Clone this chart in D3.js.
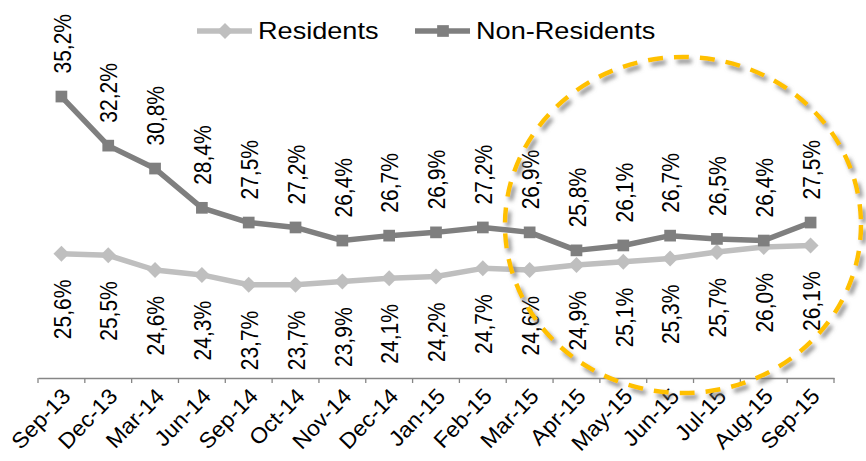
<!DOCTYPE html>
<html>
<head>
<meta charset="utf-8">
<script src="https://cdn.jsdelivr.net/npm/d3@7/dist/d3.min.js"></script>
<style>
  html, body { margin: 0; padding: 0; background: #fff; }
  svg { display: block; }
  text { font-family: "Liberation Sans", Arial, sans-serif; fill: #000; }
</style>
</head>
<body>
<svg id="chart" width="866" height="461"></svg>
<script>
// Quarterly / monthly periods on the category axis
const categories = ["Sep-13", "Dec-13", "Mar-14", "Jun-14", "Sep-14", "Oct-14", "Nov-14",
  "Dec-14", "Jan-15", "Feb-15", "Mar-15", "Apr-15", "May-15", "Jun-15", "Jul-15", "Aug-15", "Sep-15"];

// Shares in percent
const residents = [25.6, 25.5, 24.6, 24.3, 23.7, 23.7, 23.9, 24.1, 24.2, 24.7, 24.6, 24.9, 25.1, 25.3, 25.7, 26.0, 26.1];
const nonResidents = [35.2, 32.2, 30.8, 28.4, 27.5, 27.2, 26.4, 26.7, 26.9, 27.2, 26.9, 25.8, 26.1, 26.7, 26.5, 26.4, 27.5];

const seriesNames = ["Residents", "Non-Residents"];
const yDomain = [18, 40];

const COL_RES = "#bfbfbf";
const COL_NON = "#7f7f7f";
const SX = 1.12; // horizontal widening of the glyphs

const svg = d3.select("#chart");
svg.append("rect").attr("width", 866).attr("height", 461).attr("fill", "#fff");

const x = d3.scaleBand().domain(categories).range([38, 834]);
const y = d3.scaleLinear().domain(yDomain).range([378, 18]);
const cx = d => x(d) + x.bandwidth() / 2;

const fmt = v => d3.format(".1f")(v).replace(".", ",") + "%";

// Category axis: baseline, labels, and ticks between categories
const axisG = svg.append("g").attr("transform", "translate(0,378)")
  .call(d3.axisBottom(x).tickSize(0).tickSizeOuter(0).tickPadding(0));
axisG.select(".domain").attr("stroke", "#868686").attr("stroke-width", 1.3);
axisG.selectAll(".tick text")
  .attr("font-size", 22)
  .attr("font-family", "Liberation Sans, Arial, sans-serif")
  .attr("fill", "#000")
  .attr("text-anchor", "end")
  .attr("x", 0).attr("y", 0)
  .attr("transform", `translate(5,14) rotate(-46) scale(1.04,1)`)
  .attr("dy", "0.35em");
const boundaries = categories.map(d => x(d)).concat([x.range()[1]]);
axisG.selectAll("line.bound").data(boundaries).join("line")
  .attr("class", "bound")
  .attr("x1", d => d).attr("x2", d => d)
  .attr("y1", 0).attr("y2", 5)
  .attr("stroke", "#868686").attr("stroke-width", 1.3);

// Lines
const line = vals => d3.line().x((v, i) => cx(categories[i])).y(v => y(v))(vals);
svg.append("path").attr("d", line(residents)).attr("fill", "none")
  .attr("stroke", COL_RES).attr("stroke-width", 5.5).attr("stroke-linejoin", "round");
svg.append("path").attr("d", line(nonResidents)).attr("fill", "none")
  .attr("stroke", COL_NON).attr("stroke-width", 5.5).attr("stroke-linejoin", "round");

// Markers
const diamond = d3.symbol().type(d3.symbolSquare).size(128);
const square = d3.symbol().type(d3.symbolSquare).size(137);
svg.append("g").selectAll("path").data(residents).join("path")
  .attr("d", diamond)
  .attr("transform", (v, i) => `translate(${cx(categories[i])},${y(v)}) rotate(45)`)
  .attr("fill", COL_RES);
svg.append("g").selectAll("path").data(nonResidents).join("path")
  .attr("d", square)
  .attr("transform", (v, i) => `translate(${cx(categories[i])},${y(v)})`)
  .attr("fill", COL_NON);

// Value labels, rotated
svg.append("g").selectAll("text").data(nonResidents).join("text")
  .attr("transform", (v, i) => `translate(${cx(categories[i]) + 1},${y(v) - 23}) scale(${SX},1) rotate(-90)`)
  .attr("font-size", 21)
  .attr("text-anchor", "start")
  .attr("dy", "0.35em")
  .text(fmt);
svg.append("g").selectAll("text").data(residents).join("text")
  .attr("transform", (v, i) => `translate(${cx(categories[i]) + 1},${y(v) + 26}) scale(${SX},1) rotate(-90)`)
  .attr("font-size", 21)
  .attr("text-anchor", "end")
  .attr("dy", "0.35em")
  .text(fmt);

// Legend
const legend = svg.append("g");
const legendItems = [
  { name: seriesNames[0], color: COL_RES, x0: 197, sym: diamond, rot: 45 },
  { name: seriesNames[1], color: COL_NON, x0: 415, sym: square, rot: 0 }
];
legendItems.forEach(it => {
  legend.append("line").attr("x1", it.x0).attr("x2", it.x0 + 55)
    .attr("y1", 31).attr("y2", 31)
    .attr("stroke", it.color).attr("stroke-width", 5.5);
  legend.append("path").attr("d", it.sym)
    .attr("transform", `translate(${it.x0 + 28},31) rotate(${it.rot})`)
    .attr("fill", it.color);
  legend.append("text")
    .attr("transform", `translate(${it.x0 + 61},39) scale(1.13,1)`)
    .attr("font-size", 24)
    .text(it.name);
});

// Highlight ring around the most recent periods
const defs = svg.append("defs");
const f = defs.append("filter").attr("id", "ringShadow")
  .attr("x", "-10%").attr("y", "-10%").attr("width", "125%").attr("height", "125%");
f.append("feDropShadow").attr("dx", 3).attr("dy", 4).attr("stdDeviation", 2.2)
  .attr("flood-color", "#6e6e6e").attr("flood-opacity", 0.8);
svg.append("ellipse")
  .attr("cx", 683).attr("cy", 225).attr("rx", 178).attr("ry", 168)
  .attr("fill", "none")
  .attr("stroke", "#ffc000").attr("stroke-width", 4.5)
  .attr("stroke-dasharray", "15,11")
  .attr("filter", "url(#ringShadow)");
</script>
</body>
</html>
